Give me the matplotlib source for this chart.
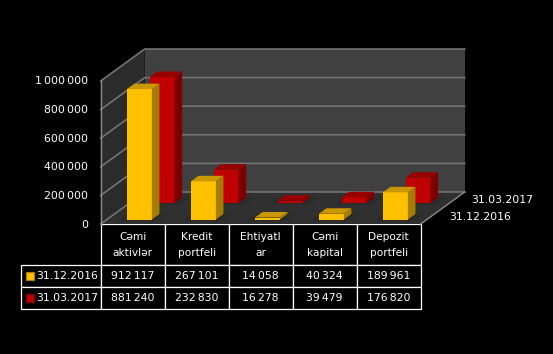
import matplotlib
matplotlib.use('Agg')
import matplotlib.pyplot as plt
from matplotlib.patches import Polygon
from matplotlib.table import Table

# dados
categorias = ['Cəmi\naktivlər', 'Kredit\nportfeli', 'Ehtiyatl\nar', 'Cəmi\nkapital', 'Depozit\nportfeli']
serie_dez = [912117, 267101, 14058, 40324, 189961]
serie_mar = [881240, 232830, 16278, 39479, 176820]
nome_dez = '31.12.2016'
nome_mar = '31.03.2017'
ticks_y = [0, 200000, 400000, 600000, 800000, 1000000]
cor_dez = ('#FFC000', '#A67D00', '#C99700')
cor_mar = ('#C00000', '#7C0000', '#980000')

W, H = 553, 354

# geometria do "3D" em pixels
x0, y0 = 100.7, 224.0
larg_cat = 64.0
alt_ymax = 143.0
dx_fundo, dy_fundo = 44.0, 32.0


def proj(cat, valor, prof):
    # cat em unidades de categoria, prof de 0 (frente) a 1 (fundo)
    x = x0 + cat * larg_cat + prof * dx_fundo
    y = y0 - valor / 1000000 * alt_ymax - prof * dy_fundo
    return (x, y)


def poligono(pontos, cor, z, borda='none'):
    ax.add_patch(Polygon(pontos, closed=True, facecolor=cor, edgecolor=borda, linewidth=0.6, zorder=z))


def barra(cat, valor, prof, cores, z):
    larg = 0.195
    p = 0.172
    esq, dir_ = cat + 0.508 - larg, cat + 0.508 + larg
    # sombra no chao
    poligono([proj(esq - 0.1, 0, prof - 0.04), proj(dir_ + 0.12, 0, prof - 0.04),
              proj(dir_ + 0.12, 0, prof + p), proj(esq - 0.1, 0, prof + p)], '#2A2A2A', 2)
    # frente, lado, topo
    poligono([proj(esq, 0, prof), proj(dir_, 0, prof), proj(dir_, valor, prof), proj(esq, valor, prof)], cores[0], z)
    poligono([proj(dir_, 0, prof), proj(dir_, 0, prof + p), proj(dir_, valor, prof + p), proj(dir_, valor, prof)], cores[1], z)
    poligono([proj(esq, valor, prof), proj(dir_, valor, prof), proj(dir_, valor, prof + p), proj(esq, valor, prof + p)], cores[2], z)


def fmt(v):
    return f'{v:,}'.replace(',', '\u2009')


plt.rcParams['font.family'] = ['DejaVu Sans']
fig = plt.figure(figsize=(W / 100, H / 100), dpi=100, facecolor='black')
ax = fig.add_axes([0, 0, 1, 1])
ax.set_xlim(0, W)
ax.set_ylim(H, 0)
ax.axis('off')

n = len(categorias)

# paredes e chao
poligono([proj(0, 0, 1), proj(n, 0, 1), proj(n, 1000000, 1), proj(0, 1000000, 1)], '#404040', 1)
poligono([proj(0, 0, 0), proj(0, 0, 1), proj(0, 1000000, 1), proj(0, 1000000, 0)], '#2B2B2B', 1)
poligono([proj(0, 0, 0), proj(n, 0, 0), proj(n, 0, 1), proj(0, 0, 1)], '#303030', 1)

# linhas de grade
for t in ticks_y:
    a, b, c = proj(0, t, 0), proj(0, t, 1), proj(n, t, 1)
    ax.plot([a[0], b[0], c[0]], [a[1], b[1], c[1]], color='#737373', lw=1.2, zorder=1.5)
    ax.text(88, a[1] + 0.5, fmt(t), color='white', fontsize=7.8, ha='right', va='center', zorder=6)
a, b = proj(0, 0, 0), proj(0, 1000000, 0)
ax.plot([a[0], b[0]], [a[1], b[1]], color='#8C8C8C', lw=1.0, zorder=1.5)
a, b = proj(n, 0, 0), proj(n, 0, 1)
ax.plot([a[0], b[0]], [a[1], b[1]], color='#8C8C8C', lw=1.0, zorder=1.5)

# barras: serie de tras primeiro
for i in range(n):
    barra(i, serie_mar[i], 0.656, cor_mar, 3)
for i in range(n):
    barra(i, serie_dez[i], 0.14, cor_dez, 4)

# nomes das series no eixo de profundidade
ax.text(449, 217, nome_dez, color='white', fontsize=7.8, ha='left', va='center')
ax.text(471, 200, nome_mar, color='white', fontsize=7.8, ha='left', va='center')

# tabela de dados
x_tab, x_fim = 21.3, 420.7
y_tab, y_fim = 224.0, 309.0
larg_nome = x0 - x_tab
alt_cab = 41.0
alt_lin = 22.0
tabela = Table(ax, bbox=[x_tab / W, 1 - y_fim / H, (x_fim - x_tab) / W, (y_fim - y_tab) / H])
tabela.auto_set_font_size(False)
linhas = [categorias, [fmt(v) for v in serie_dez], [fmt(v) for v in serie_mar]]
for r, linha in enumerate(linhas):
    alt = alt_cab if r == 0 else alt_lin
    c0 = tabela.add_cell(r, 0, larg_nome / W, alt / H, facecolor='black', edgecolor='white')
    if r == 0:
        c0.visible_edges = ''
    c0.set_linewidth(0.9)
    for c, txt in enumerate(linha):
        cel = tabela.add_cell(r, c + 1, larg_cat / W, alt / H, text=txt, loc='center', facecolor='black', edgecolor='white')
        cel.get_text().set_color('white')
        cel.get_text().set_fontsize(7.8 if r > 0 else 7.6)
        cel.get_text().set_linespacing(1.75)
        cel.set_linewidth(0.9)
ax.add_table(tabela)

# legenda dentro da tabela
y_linhas = [y_tab + alt_cab + alt_lin / 2, y_tab + alt_cab + alt_lin * 1.5]
for y, nome, cores in zip(y_linhas, [nome_dez, nome_mar], [cor_dez, cor_mar]):
    ax.scatter([29.5], [y], marker='s', s=30, color=cores[0], edgecolors=cores[1], linewidths=0.9, zorder=7)
    ax.text(36, y, nome, color='white', fontsize=7.8, ha='left', va='center', zorder=7)

fig.savefig('out.png', dpi=100, facecolor='black')
